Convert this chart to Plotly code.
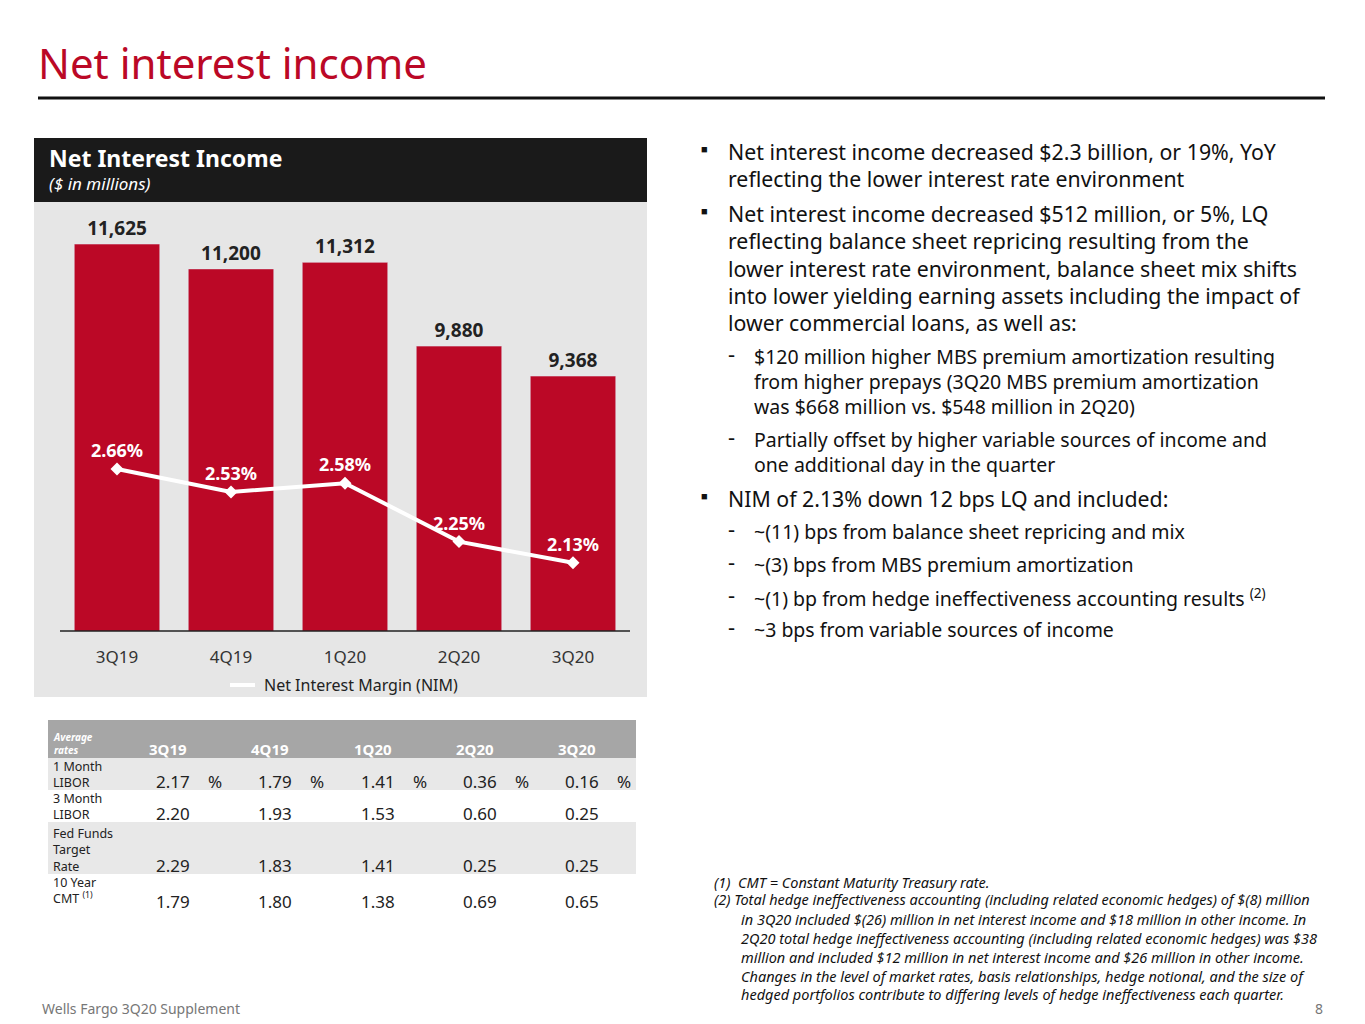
import plotly.graph_objects as go

quarters = ["3Q19", "4Q19", "1Q20", "2Q20", "3Q20"]
nii = [11625, 11200, 11312, 9880, 9368]
nim = [2.66, 2.53, 2.58, 2.25, 2.13]

rate_names = ["1 Month<br>LIBOR", "3 Month<br>LIBOR", "Fed Funds<br>Target<br>Rate", "10 Year<br>CMT <sup>(1)</sup>"]
libor_1m = [2.17, 1.79, 1.41, 0.36, 0.16]
libor_3m = [2.20, 1.93, 1.53, 0.60, 0.25]
fed_funds = [2.29, 1.83, 1.41, 0.25, 0.25]
cmt_10y = [1.79, 1.80, 1.38, 0.69, 0.65]

RED = "#BB0826"
FONT = "Noto Sans"
W, H = 1365, 1024
OFF = 8  # page margin shift


def px(x):
    return (x - OFF) / W


def py(y):
    return 1 - (y - OFF) / H


fig = go.Figure()
fig.add_trace(go.Bar(x=quarters, y=nii, marker_color=RED, width=0.75,
                     text=[f"{v:,}" for v in nii], textposition="outside",
                     textfont=dict(size=19, color="#222", family=FONT, weight="bold"),
                     cliponaxis=False, showlegend=False))
fig.add_trace(go.Scatter(x=quarters, y=nim, yaxis="y2", mode="lines+markers+text",
                         line=dict(color="white", width=4),
                         marker=dict(symbol="diamond", size=10, color="white"),
                         text=[f"{v:.2f}%" for v in nim], textposition="top center",
                         textfont=dict(size=18, color="white", family=FONT, weight="bold"),
                         showlegend=False, cliponaxis=False))

shapes = [
    dict(type="line", xref="paper", yref="paper", x0=px(38), x1=px(1325), y0=py(98), y1=py(98),
         line=dict(color="#111", width=3)),
    dict(type="rect", xref="paper", yref="paper", x0=px(34), x1=px(647), y0=py(138), y1=py(697),
         fillcolor="#e6e6e6", line_width=0, layer="below"),
    dict(type="rect", xref="paper", yref="paper", x0=px(34), x1=px(647), y0=py(138), y1=py(202),
         fillcolor="#1a1a1a", line_width=0, layer="below"),
    dict(type="line", xref="paper", yref="paper", x0=px(60), x1=px(630), y0=py(631), y1=py(631),
         line=dict(color="#222", width=1.5)),
    dict(type="line", xref="paper", yref="paper", x0=px(230), x1=px(255), y0=py(685), y1=py(685),
         line=dict(color="white", width=4)),
]

ann = [
    dict(x=px(36), y=py(62), text="Net interest income", font=dict(size=42, color=RED)),
    dict(x=px(47), y=py(158), text="<b>Net Interest Income</b>", font=dict(size=23, color="white")),
    dict(x=px(47), y=py(183), text="<i>($ in millions)</i>", font=dict(size=17, color="white")),
    dict(x=px(262), y=py(685), text="Net Interest Margin (NIM)", font=dict(size=16, color="#222")),
    dict(x=px(40), y=py(1008), text="Wells Fargo 3Q20 Supplement", font=dict(size=14, color="#777")),
    dict(x=px(1325), y=py(1008), text="8", xanchor="right", font=dict(size=14, color="#777")),
]

# table
tx0, tx1 = 48, 636
rows_bg = [(720, 758, "#a6a6a6"), (758, 790, "#e8e8e8"), (790, 822, "white"),
           (822, 874, "#e8e8e8"), (874, 918, "white")]
for y0, y1, c in rows_bg:
    shapes.append(dict(type="rect", xref="paper", yref="paper", x0=px(tx0), x1=px(tx1),
                       y0=py(y0), y1=py(y1), fillcolor=c, line_width=0, layer="below"))
ann.append(dict(x=px(51), y=py(743), text="<b><i>Average<br>rates</i></b>", font=dict(size=10, color="white")))
col_x = [173, 275, 378, 480, 582]
for i, q in enumerate(quarters):
    ann.append(dict(x=px(col_x[i] - 5), y=py(749), xanchor="center", text=f"<b>{q}</b>",
                    font=dict(size=15, color="white")))
rows = [libor_1m, libor_3m, fed_funds, cmt_10y]
row_val_y = [781, 813, 865, 901]
row_name_y = [774, 806, 850, 890]
for r, vals in enumerate(rows):
    ann.append(dict(x=px(51), y=py(row_name_y[r]), text=rate_names[r], font=dict(size=12.5, color="#222")))
    for i, v in enumerate(vals):
        ann.append(dict(x=px(col_x[i]), y=py(row_val_y[r]), xanchor="center", text=f"{v:.2f}",
                        font=dict(size=17, color="#222")))
        if r == 0:
            ann.append(dict(x=px(col_x[i] + 42), y=py(row_val_y[r]), xanchor="center", text="%",
                            font=dict(size=17, color="#222")))

# bullet text
bullets = [
    (1, 151, "Net interest income decreased $2.3 billion, or 19%, YoY"),
    (0, 178, "reflecting the lower interest rate environment"),
    (1, 213, "Net interest income decreased $512 million, or 5%, LQ"),
    (0, 240, "reflecting balance sheet repricing resulting from the"),
    (0, 268, "lower interest rate environment, balance sheet mix shifts"),
    (0, 295, "into lower yielding earning assets including the impact of"),
    (0, 322, "lower commercial loans, as well as:"),
    (2, 356, "$120 million higher MBS premium amortization resulting"),
    (3, 381, "from higher prepays (3Q20 MBS premium amortization"),
    (3, 406, "was $668 million vs. $548 million in 2Q20)"),
    (2, 439, "Partially offset by higher variable sources of income and"),
    (3, 464, "one additional day in the quarter"),
    (1, 498, "NIM of 2.13% down 12 bps LQ and included:"),
    (2, 531, "~(11) bps from balance sheet repricing and mix"),
    (2, 564, "~(3) bps from MBS premium amortization"),
    (2, 597, "~(1) bp from hedge ineffectiveness accounting results <sup>(2)</sup>"),
    (2, 629, "~3 bps from variable sources of income"),
]
for kind, y, t in bullets:
    size = 21.3 if kind < 2 else 19.5
    if kind == 1:
        ann.append(dict(x=px(699), y=py(y - 3), text="■", font=dict(size=11, color="#111")))
    if kind == 2:
        ann.append(dict(x=px(726), y=py(y - 3), text="-", font=dict(size=22, color="#111")))
    ann.append(dict(x=px(726 if kind < 2 else 752), y=py(y), text=t, font=dict(size=size, color="#111")))

ann.append(dict(x=px(712), y=py(882), text="<i>(1)  CMT = Constant Maturity Treasury rate.</i>",
                font=dict(size=14.5, color="#111")))
ann.append(dict(x=px(712), y=py(899), text="<i>(2) Total hedge ineffectiveness accounting (including related economic hedges) of $(8) million</i>",
                font=dict(size=14.5, color="#111")))
ann.append(dict(x=px(739), y=py(907), yanchor="top", align="left",
                text="<i>in 3Q20 included $(26) million in net interest income and $18 million in other income. In<br>"
                     "2Q20 total hedge ineffectiveness accounting (including related economic hedges) was $38<br>"
                     "million and included $12 million in net interest income and $26 million in other income.<br>"
                     "Changes in the level of market rates, basis relationships, hedge notional, and the size of<br>"
                     "hedged portfolios contribute to differing levels of hedge ineffectiveness each quarter.</i>",
                font=dict(size=14.5, color="#111")))

for a in ann:
    a.setdefault("xref", "paper")
    a.setdefault("yref", "paper")
    a.setdefault("xanchor", "left")
    a.setdefault("yanchor", "middle")
    a.setdefault("showarrow", False)
    a.setdefault("align", "left")

fig.update_layout(
    width=W, height=H, margin=dict(l=0, r=0, t=0, b=0),
    paper_bgcolor="white", plot_bgcolor="rgba(0,0,0,0)",
    font=dict(family=FONT, color="#222"),
    xaxis=dict(domain=[px(60), px(630)], showgrid=False, ticks="", showline=False,
               tickfont=dict(size=17, color="#333"), ticklabelstandoff=14),
    yaxis=dict(domain=[py(631), py(210)], range=[5010, 12207], visible=False),
    yaxis2=dict(overlaying="y", range=[1.745, 4.123], visible=False),
    bargap=0.25, shapes=shapes, annotations=ann, showlegend=False,
)
fig.write_html("out.html")
